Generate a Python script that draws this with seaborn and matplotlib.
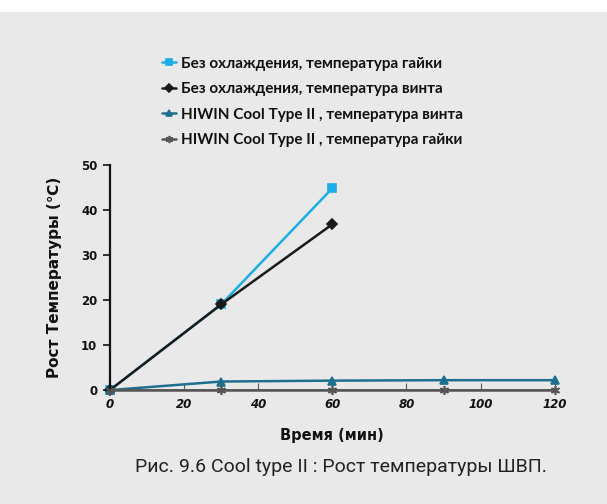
import matplotlib
matplotlib.use("Agg")
import matplotlib.pyplot as plt
import seaborn as sns
import pandas as pd

sns.set_theme(style="white")
plt.rcParams["font.family"] = ["DejaVu Sans"]

# Time points (minutes)
time_short = [0, 30, 60]
time_long = [0, 30, 60, 90, 120]

# Temperature rise (°C)
nut_no_cooling = [0, 19, 44.8]
screw_no_cooling = [0, 19, 36.8]
cool_screw = [0, 1.9, 2.1, 2.2, 2.2]
cool_nut = [0, 0, 0, 0, 0]

labels = [
    "Без охлаждения, температура гайки",
    "Без охлаждения, температура винта",
    "HIWIN Cool Type II , температура винта",
    "HIWIN Cool Type II , температура гайки",
]

x_ticks = [0, 20, 40, 60, 80, 100, 120]
y_ticks = [0, 10, 20, 30, 40, 50]

BG = "#e9e9e9"
fig = plt.figure(figsize=(6.07, 5.04), dpi=100, facecolor=BG)
# white strip along the top edge
fig.patches.append(plt.Rectangle((0, 0.976), 1, 0.024, transform=fig.transFigure,
                                 facecolor="white", edgecolor="none", zorder=0))
ax = fig.add_axes([0.181, 0.226, 0.733, 0.447])
ax.set_facecolor("none")

series = [
    (time_short, nut_no_cooling, "#19aee6", "s", 5.5, labels[0]),
    (time_short, screw_no_cooling, "#1a1a1a", "D", 5.5, labels[1]),
    (time_long, cool_screw, "#1d6f8e", "^", 6, labels[2]),
    (time_long, cool_nut, "#555555", (6, 2, 0), 6.5, labels[3]),
]
for xs, ys, col, mk, ms, lab in series:
    df = pd.DataFrame({"t": xs, "v": ys})
    sns.lineplot(data=df, x="t", y="v", ax=ax, color=col, marker=mk,
                 markersize=ms, linewidth=1.8, markeredgecolor=col,
                 markeredgewidth=1.2, label=lab, clip_on=False)

ax.set_xlim(0, 120)
ax.set_ylim(0, 50)
ax.set_xticks(x_ticks)
ax.set_yticks(y_ticks)
ax.set_xticklabels([str(v) for v in x_ticks], fontsize=8.5, fontweight="bold",
                   fontstyle="italic")
ax.set_yticklabels([str(v) for v in y_ticks], fontsize=8.5, fontweight="bold")
ax.tick_params(axis="y", left=True, direction="out", length=5, width=1.2,
               colors="#111111", pad=4)
ax.tick_params(axis="x", bottom=True, direction="in", length=5, width=0.8,
               colors="#555555", pad=6)
for lab in ax.get_xticklabels():
    lab.set_color("#111111")

for s in ["top", "right"]:
    ax.spines[s].set_visible(False)
ax.spines["left"].set_color("#111111")
ax.spines["left"].set_linewidth(1.6)
ax.spines["bottom"].set_color("#555555")
ax.spines["bottom"].set_linewidth(1.2)

ax.set_xlabel("Время (мин)", fontsize=10.5, fontweight="bold", color="#111111", labelpad=12)
ax.set_ylabel("Рост Температуры (℃)", fontsize=11, fontweight="bold", color="#111111",
              labelpad=14)

handles, labs = ax.get_legend_handles_labels()
leg = ax.legend(handles, labs, loc="upper left", bbox_to_anchor=(0.244, 0.915),
                bbox_transform=fig.transFigure, frameon=False,
                prop={"family": "Lato", "weight": "bold", "size": 11},
                handlelength=0.9, handletextpad=0.35, labelspacing=0.76,
                markerscale=0.8)
for t in leg.get_texts():
    t.set_color("#111111")

fig.text(0.562, 0.073, "Рис. 9.6 Cool type II : Рост температуры ШВП.",
         ha="center", va="center", fontsize=14, family="Roboto", color="#222222")

fig.savefig("out.png", dpi=100, facecolor=BG)
